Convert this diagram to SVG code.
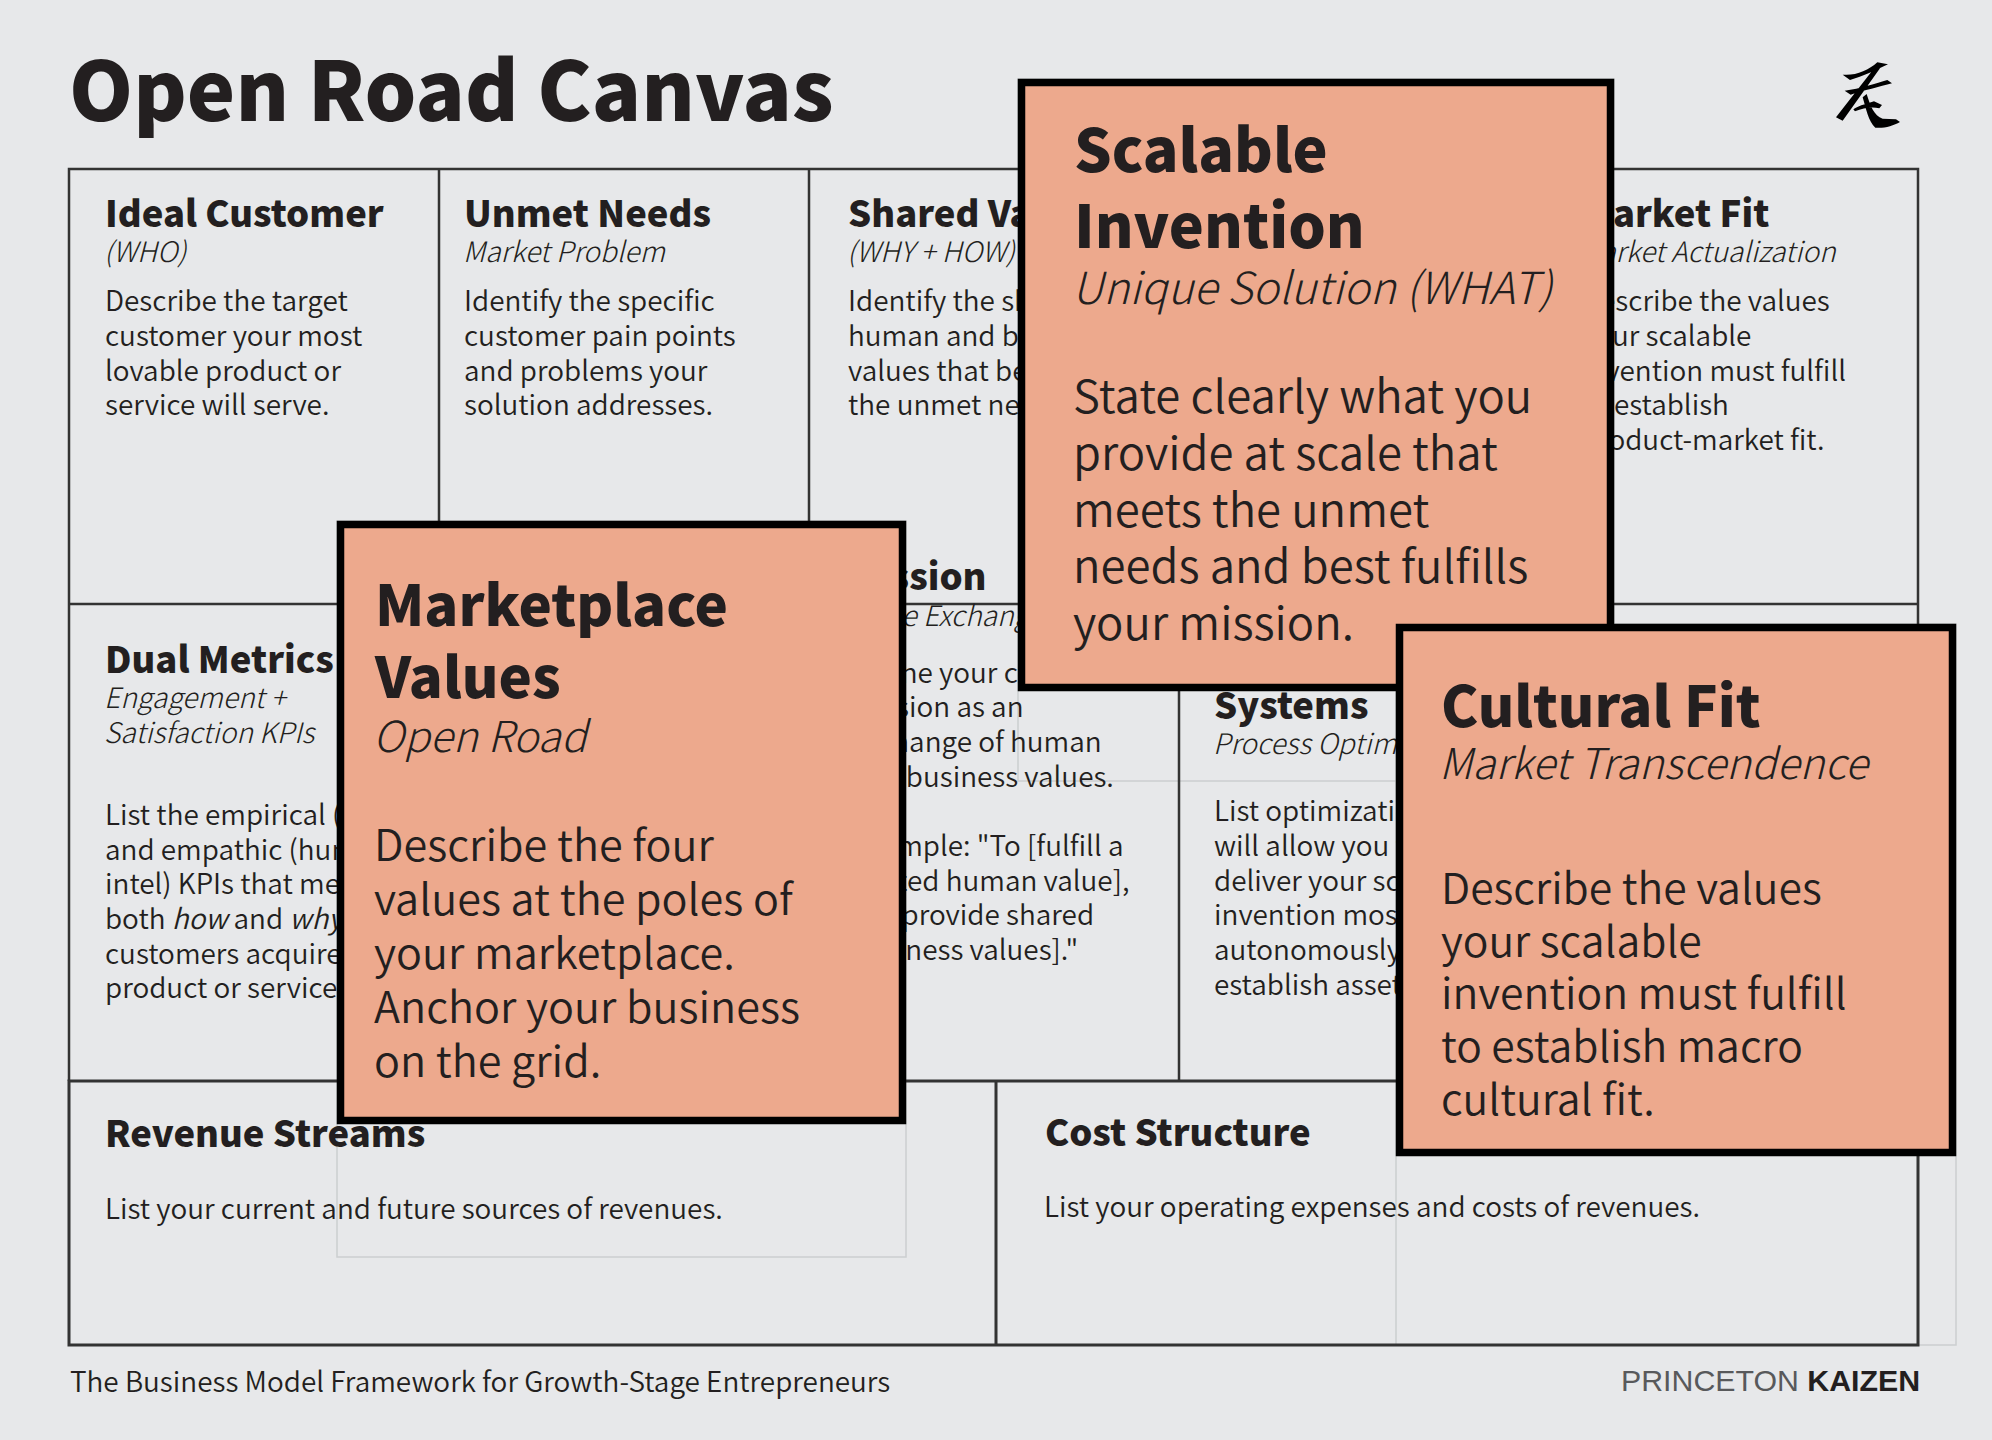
<svg xmlns="http://www.w3.org/2000/svg" width="1992" height="1440" viewBox="0 0 1992 1440">
<style>
text{font-family:"Noto Sans CJK SC","Source Sans Pro","Noto Sans",sans-serif;fill:#231f20}
.title{font-size:81.6px;font-weight:900}
.h{font-size:36.4px;font-weight:900}
.s{font-size:28.2px;font-style:italic;font-weight:300}
.b{font-size:27.9px;font-weight:350}
.g{fill:none;stroke:#333;stroke-width:2.5}
.g2{fill:none;stroke:#333;stroke-width:3}
.ghost{fill:none;stroke:#ccced0;stroke-width:1.5}
.card{fill:#eda98d;stroke:#000;stroke-width:7.5}
.ch{font-weight:900}
.cs{font-style:italic;font-weight:300}
.cb{font-weight:350}
.mv .ch{font-size:56.3px}.mv .cs{font-size:42.7px}.mv .cb{font-size:43.2px}
.si .ch{font-size:59.1px}.si .cs{font-size:44.2px}.si .cb{font-size:45.5px}
.cf .ch{font-size:56px}.cf .cs{font-size:42.4px}.cf .cb{font-size:42.7px}
.brand{font-family:"Liberation Sans",Arial,sans-serif;font-size:30.3px}
</style>
<rect width="1992" height="1440" fill="#e7e8ea"/>
<g id="header"><text class="title" x="69" y="121">Open Road Canvas</text></g>
<g id="logo"><path fill="#000" transform="translate(1800 40) scale(.3333)" d="M128 104C165 108 205 92 232 67L264 73C225 92 190 108 150 120ZM226 80L240 85L128 242L108 232ZM134 152C180 146 230 130 262 120L276 130C240 140 190 152 152 164ZM160 208C180 195 205 190 222 184L246 195L238 205C215 200 190 204 165 214ZM188 172L200 162C210 195 222 228 248 236L288 238L300 246C280 258 250 266 226 263C205 245 198 205 188 172Z"/></g>
<g id="ghosts"><rect class="ghost" x="337" y="521" width="569" height="736"/><rect class="ghost" x="1018" y="79" width="596" height="702"/><rect class="ghost" x="1396" y="624" width="560" height="721"/></g>
<g id="grid">
<path class="g" d="M69 169H1918V604H69ZM439 169V604M809 169V604M1179 169V604M1549 169V604M69 604V1081M439 604V1081M809 604V1081M1179 604V1081M1918 604V1081"/>
<path class="g2" d="M69 1081H1918V1345H69ZM996 1081V1345"/>
</g>
<g id="ideal-customer"><text class="h" x="105" y="227">Ideal Customer</text><text class="s" x="104" y="262">(WHO)</text>
<text class="b" x="105" y="311">Describe the target</text><text class="b" x="105" y="346">customer your most</text><text class="b" x="105" y="381">lovable product or</text><text class="b" x="105" y="415">service will serve.</text></g>
<g id="unmet-needs"><text class="h" x="464" y="227">Unmet Needs</text><text class="s" x="463" y="262">Market Problem</text>
<text class="b" x="464" y="311">Identify the specific</text><text class="b" x="464" y="346">customer pain points</text><text class="b" x="464" y="381">and problems your</text><text class="b" x="464" y="415">solution addresses.</text></g>
<g id="shared-values"><text class="h" x="848" y="227">Shared Values</text><text class="s" x="847" y="262">(WHY + HOW)</text>
<text class="b" x="848" y="311">Identify the shared</text><text class="b" x="848" y="346">human and business</text><text class="b" x="848" y="381">values that best fulfill</text><text class="b" x="848" y="415">the unmet needs.</text></g>
<g id="market-fit"><text class="h" x="1581" y="227">Market Fit</text><text class="s" x="1578" y="262">Market Actualization</text>
<text class="b" x="1581" y="311">Describe the values</text><text class="b" x="1581" y="346">your scalable</text><text class="b" x="1581" y="381">invention must fulfill</text><text class="b" x="1581" y="415">to establish</text><text class="b" x="1581" y="450">product-market fit.</text></g>
<g id="dual-metrics"><text class="h" x="105" y="673">Dual Metrics</text><text class="s" x="104" y="708">Engagement +</text><text class="s" x="104" y="743">Satisfaction KPIs</text>
<text class="b" x="105" y="825">List the empirical (data)</text><text class="b" x="105" y="860">and empathic (human</text><text class="b" x="105" y="894">intel) KPIs that measure</text><text class="b" x="105" y="929">both <tspan font-style="italic">how</tspan> and <tspan font-style="italic">why</tspan></text><text class="b" x="105" y="964">customers acquire your</text><text class="b" x="105" y="998">product or service.</text></g>
<g id="mission"><text class="h" x="847" y="590">Mission</text><text class="s" x="847" y="626">Value Exchange</text>
<text class="b" x="850" y="683">Define your core</text><text class="b" x="850" y="717">mission as an</text><text class="b" x="850" y="752">exchange of human</text><text class="b" x="850" y="787">and business values.</text>
<text class="b" x="853" y="856">Example: "To [fulfill a</text><text class="b" x="860" y="891">stated human value],</text><text class="b" x="858" y="925">we provide shared</text><text class="b" x="851" y="960">business values]."</text></g>
<g id="systems"><text class="h" x="1214" y="719">Systems</text><text class="s" x="1213" y="754">Process Optimization</text>
<text class="b" x="1214" y="821">List optimizations that</text><text class="b" x="1214" y="856">will allow you to</text><text class="b" x="1214" y="891">deliver your scalable</text><text class="b" x="1214" y="925">invention most</text><text class="b" x="1214" y="960">autonomously and</text><text class="b" x="1214" y="995">establish assets.</text></g>
<g id="revenue-streams"><text class="h" x="105" y="1147">Revenue Streams</text><text class="b" x="105" y="1219">List your current and future sources of revenues.</text></g>
<g id="cost-structure"><text class="h" x="1045" y="1146">Cost Structure</text><text class="b" x="1044" y="1217">List your operating expenses and costs of revenues.</text></g>
<g id="footer"><text class="b" x="70" y="1392">The Business Model Framework for Growth-Stage Entrepreneurs</text>
<text class="brand" x="1621" y="1391" style="fill:#58595b">PRINCETON <tspan style="fill:#231f20;font-weight:700">KAIZEN</tspan></text></g>
<g id="marketplace-values" class="mv"><rect class="card" x="340.5" y="524.5" width="562" height="596"/>
<text class="ch" x="375" y="626">Marketplace</text><text class="ch" x="375" y="698">Values</text><text class="cs" x="373" y="752">Open Road</text>
<text class="cb" x="374" y="861">Describe the four</text><text class="cb" x="374" y="915">values at the poles of</text><text class="cb" x="374" y="969">your marketplace.</text><text class="cb" x="374" y="1023">Anchor your business</text><text class="cb" x="374" y="1077">on the grid.</text></g>
<g id="scalable-invention" class="si"><rect class="card" x="1021.5" y="82.5" width="589" height="605"/>
<text class="ch" x="1074" y="172">Scalable</text><text class="ch" x="1074" y="248">Invention</text><text class="cs" x="1072" y="303.5">Unique Solution (WHAT)</text>
<text class="cb" x="1073" y="413">State clearly what you</text><text class="cb" x="1073" y="470">provide at scale that</text><text class="cb" x="1073" y="527">meets the unmet</text><text class="cb" x="1073" y="583">needs and best fulfills</text><text class="cb" x="1073" y="640">your mission.</text></g>
<g id="cultural-fit" class="cf"><rect class="card" x="1399.5" y="627.5" width="553" height="525"/>
<text class="ch" x="1441" y="727">Cultural Fit</text><text class="cs" x="1439" y="779">Market Transcendence</text>
<text class="cb" x="1441" y="904">Describe the values</text><text class="cb" x="1441" y="957">your scalable</text><text class="cb" x="1441" y="1009">invention must fulfill</text><text class="cb" x="1441" y="1062">to establish macro</text><text class="cb" x="1441" y="1115">cultural fit.</text></g>
</svg>
